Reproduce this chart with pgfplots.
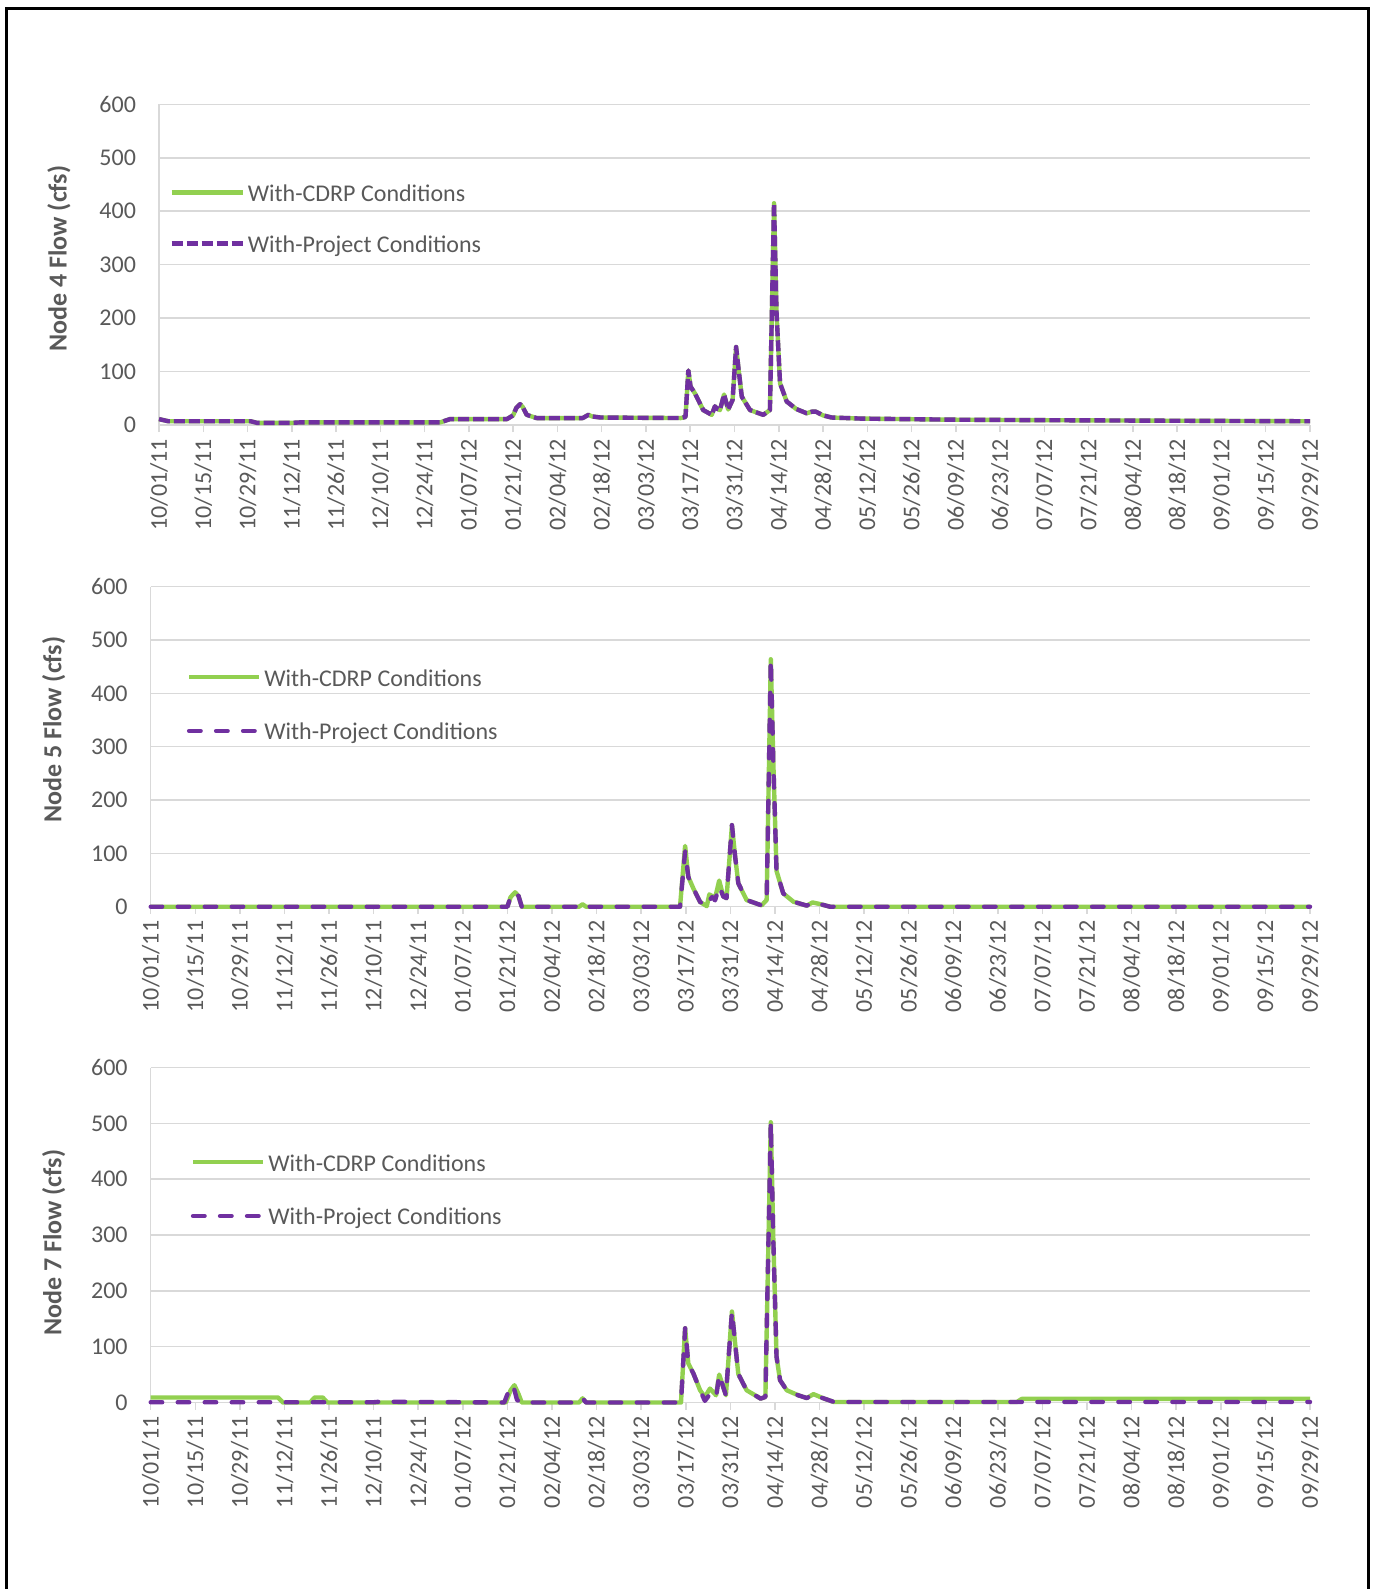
\documentclass[border=0pt]{standalone}
\usepackage{fontspec}
\setmainfont{Carlito}
\usepackage{pgfplots}
\pgfplotsset{compat=1.18}

\definecolor{cdrp}{HTML}{92D050}
\definecolor{proj}{HTML}{7030A0}
\definecolor{gridc}{HTML}{D9D9D9}
\definecolor{txt}{HTML}{595959}

\pgfplotsset{
  flowpanel/.style={
    scale only axis, clip=false,
    xmin=0, xmax=364, ymin=0, ymax=600,
    ytick={0,100,...,600},
    xtick={0,14,...,364},
    xticklabels={10/01/11,10/15/11,10/29/11,11/12/11,11/26/11,12/10/11,12/24/11,01/07/12,01/21/12,02/04/12,02/18/12,03/03/12,03/17/12,03/31/12,04/14/12,04/28/12,05/12/12,05/26/12,06/09/12,06/23/12,07/07/12,07/21/12,08/04/12,08/18/12,09/01/12,09/15/12,09/29/12},
    axis x line*=bottom, axis y line*=left,
    axis line style={-, draw=gridc, line width=0.75pt},
    ymajorgrids, grid style={draw=gridc, line width=0.75pt},
    xtick style={draw=gridc, line width=0.75pt},
    ytick style={draw=none},
    tick align=outside, major tick length=3.5pt,
    tick label style={font=\fontsize{12}{14}\selectfont, text=txt},
    xticklabel style={rotate=90, anchor=east},
    yticklabel style={xshift=-4.5pt},
    /pgf/number format/assume math mode=true,
    ylabel style={font=\fontsize{13}{15}\selectfont\bfseries, text=txt, anchor=center},
    legend cell align=left,
    legend style={draw=none, fill=none, inner sep=0pt, column sep=1.5pt,
      font=\fontsize{12}{14}\selectfont, text=txt, anchor=west,
      nodes={inner sep=0pt, text height=9pt, text depth=3pt}},
  },
  green line/.style={draw=cdrp, line width=2.2pt, line join=round},
  purple short/.style={draw=proj, line width=2.2pt, line join=round, dash pattern=on 5.5pt off 2pt},
  purple long/.style={draw=proj, line width=2.2pt, line join=round, line cap=round, dash pattern=on 5.75pt off 7.75pt},
}

\begin{document}
\begin{tikzpicture}
\useasboundingbox (0pt,0pt) rectangle (686.5pt,-794.5pt);
\draw[line width=1.5pt] (3pt,-794.5pt) -- (3pt,-4.5pt) -- (684.35pt,-4.5pt) -- (684.35pt,-794.5pt);

% Node 4
\begin{axis}[flowpanel, at={(79.5pt,-212.5pt)}, anchor=south west,
  width=575.5pt, height=160.35pt,
  ylabel={Node 4 Flow (cfs)},
  ylabel style={at={([xshift=-50pt,yshift=3pt]rel axis cs:0,0.5)}},
  legend image code/.code={\draw[#1] (0pt,1.5pt) -- (35.5pt,1.5pt);},
  legend style={at={(0.0087,0.636)}, row sep=13.35pt},
]
\addplot[green line] coordinates {(0,11) (3,7) (29,7) (31,4) (42,4) (45,5) (89,5) (92,11) (110,11) (112,18) (113,32) (114.2,39) (115,34) (116.3,19) (119.4,13) (134,13) (135.8,19) (137,16) (139.6,14) (165,13) (166.5,15) (167.4,102) (168.1,72) (169.5,59) (172.1,28) (174.8,19) (175.8,35) (176.6,30) (177.4,28) (178.7,57) (180,29) (181.4,47) (182.5,146) (183.2,109) (184.3,53) (186.9,28) (191.1,19) (193.2,28) (194.5,415) (195.3,209) (196.4,78) (198.5,44) (201.5,30) (204.8,22) (206.5,25) (207.7,25) (210,18) (212.7,14) (222,12) (250,10) (280,9) (320,8) (364,7)};
\addlegendentry{With-CDRP Conditions}
\addplot[purple short] coordinates {(0,11) (3,7) (29,7) (31,4) (42,4) (45,5) (89,5) (92,11) (110,11) (112,18) (113,32) (114.2,39) (115,34) (116.3,19) (119.4,13) (134,13) (135.8,19) (137,16) (139.6,14) (165,13) (166.5,15) (167.4,102) (168.1,72) (169.5,59) (172.1,28) (174.8,19) (175.8,35) (176.6,30) (177.4,28) (178.7,57) (180,29) (181.4,47) (182.5,146) (183.2,109) (184.3,53) (186.9,28) (191.1,19) (193.2,28) (194.5,415) (195.3,209) (196.4,78) (198.5,44) (201.5,30) (204.8,22) (206.5,25) (207.7,25) (210,18) (212.7,14) (222,12) (250,10) (280,9) (320,8) (364,7)};
\addlegendentry{With-Project Conditions}
\end{axis}

% Node 5
\begin{axis}[flowpanel, at={(75.35pt,-453.35pt)}, anchor=south west,
  width=579.65pt, height=160pt,
  ylabel={Node 5 Flow (cfs)},
  ylabel style={at={([xshift=-48.5pt,yshift=8.5pt]rel axis cs:0,0.5)}},
  legend image code/.code={\draw[#1] (0pt,1.5pt) -- (35pt,1.5pt);},
  legend style={at={(0.0309,0.624)}, row sep=14.85pt},
]
\addplot[green line] coordinates {(0,0) (112,0) (113,18) (114.4,27) (115.5,20) (116.5,0) (134.5,0) (135.6,4.5) (136.7,0) (166.2,0) (167.8,114) (168.8,56) (170.4,34) (172.5,9) (174.6,1) (175.4,23) (176.3,20) (177.2,16) (178.5,49) (179.8,19) (180.8,16) (182.5,153) (183.5,94) (184.5,44) (187.1,12.5) (191.8,2.5) (193.4,12.5) (194.7,464) (195.5,269) (196.5,67) (198.6,25) (201.8,9.4) (206,2) (207.8,8) (210.1,5) (213.3,0) (364,0)};
\addlegendentry{With-CDRP Conditions}
\addplot[purple long] coordinates {(0,0) (112,0) (113,18) (114.4,27) (115.5,20) (116.5,0) (134.5,0) (135.6,4.5) (136.7,0) (166.2,0) (167.8,104) (168.8,56) (170.4,34) (172.5,9) (174.6,1) (175.4,12) (176.3,18) (177.2,12) (178.5,38) (179.8,19) (180.8,16) (182.5,153) (183.5,94) (184.5,44) (187.1,12.5) (191.8,2.5) (193.4,12.5) (194.7,464) (195.5,269) (196.5,67) (198.6,25) (201.8,9.4) (206,2) (207.8,8) (210.1,5) (213.3,0) (364,0)};
\addlegendentry{With-Project Conditions}
\end{axis}

% Node 7
\begin{axis}[flowpanel, at={(75.35pt,-701.25pt)}, anchor=south west,
  width=579.65pt, height=167.5pt,
  ylabel={Node 7 Flow (cfs)},
  ylabel style={at={([xshift=-48.5pt,yshift=-3.9pt]rel axis cs:0,0.5)}},
  legend image code/.code={\draw[#1] (0pt,1.5pt) -- (35pt,1.5pt);},
  legend style={at={(0.0343,0.628)}, row sep=14.85pt},
]
\addplot[green line] coordinates {(0,9) (40,9) (41.5,0) (50,0) (51.5,9) (54,9) (55.5,0) (111.5,0) (113,22) (114.2,31) (115.5,15) (116.5,0) (134.5,0) (135.6,7.5) (136.7,0) (166.5,0) (167.8,133) (168.8,70) (170.4,52) (172.5,22) (174,10) (175.6,25) (177.5,13) (178.5,50) (180.6,13) (182.5,163) (183.5,106) (184.5,51) (187.1,22) (191.5,7) (193,10) (194.7,502) (195.5,290) (196.5,82) (197.6,40) (199.7,22) (203.3,13) (206,8) (208.1,15) (211,8) (214.5,1) (272,1) (273.5,6.5) (364,6.5)};
\addlegendentry{With-CDRP Conditions}
\addplot[purple long] coordinates {(0,0.5) (70,0.5) (72,1.5) (111,0) (112.5,22) (113.8,31) (115,5) (116,0) (134.5,0) (135.6,7.5) (136.7,0) (166.5,0) (167.8,133) (168.8,70) (170.4,52) (172.5,22) (174,3) (175.6,15) (177.5,8) (178.5,50) (180.6,13) (182.5,163) (183.5,106) (184.5,51) (187.1,22) (191.5,7) (193,10) (194.7,502) (195.5,290) (196.5,82) (197.6,40) (199.7,22) (203.3,13) (206,8) (208.1,15) (211,8) (214.5,1) (364,1)};
\addlegendentry{With-Project Conditions}
\end{axis}
\end{tikzpicture}
\end{document}
